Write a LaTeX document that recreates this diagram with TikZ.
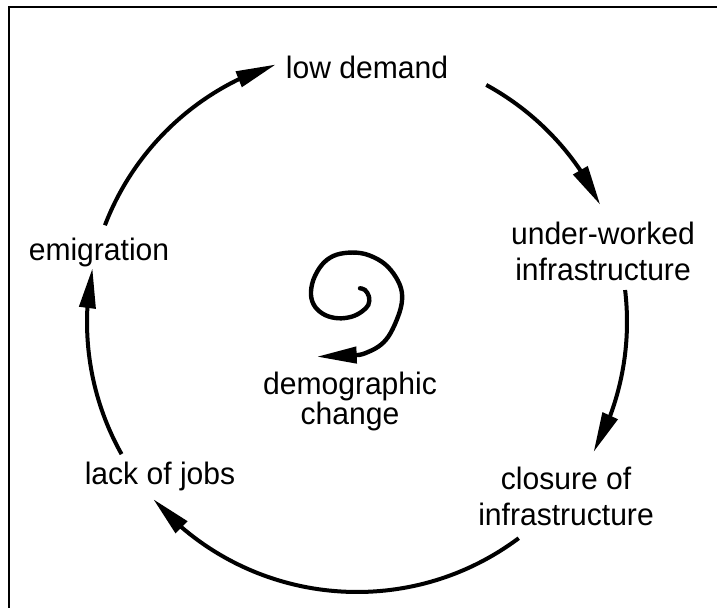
\documentclass[tikz,border=0pt]{standalone}
\usepackage{fontspec}
\setmainfont{Liberation Sans}[FakeStretch=0.97]
\usetikzlibrary{arrows.meta,bending}

\begin{document}
\begin{tikzpicture}[x=0.5pt, y=0.5pt,
  cycle_label/.style={align=center, inner sep=0pt, font=\fontsize{15.5}{18}\selectfont},
  cycle_arrow/.style={line width=2pt, -{Triangle[length=20pt,width=8pt]}}]

\useasboundingbox (0,0) rectangle (717,608);

\draw[line width=1.25pt] (9,0) -- (9,601) -- (717,601);

\coordinate (c) at (357,286);

\node[cycle_label] (low_demand) at (367,541) {low demand};
\node[cycle_label] (under_worked) at (603,357) {under-worked\\infrastructure};
\node[cycle_label] (closure) at (566,112) {closure of\\infrastructure};
\node[cycle_label] (lack_jobs) at (160,132) {lack of jobs};
\node[cycle_label] (emigration) at (99,356) {emigration};
\node[cycle_label, font=\fontsize{15.5}{15}\selectfont] (demographic) at (350,207) {demographic\\change};

\coordinate (arc_emi) at ([shift={(159:135pt)}]c);
\coordinate (arc_low) at ([shift={(61.4:135pt)}]c);
\coordinate (arc_und) at ([shift={(6.8:135pt)}]c);
\coordinate (arc_clo) at ([shift={(-53.2:135pt)}]c);
\coordinate (arc_lack) at ([shift={(-150.7:135pt)}]c);

\draw[cycle_arrow] (arc_emi) arc[start angle=159, end angle=107.5, radius=135pt];
\draw[cycle_arrow] (arc_low) arc[start angle=61.4, end angle=25.7, radius=135pt];
\draw[cycle_arrow] (arc_und) arc[start angle=6.8, end angle=-28.8, radius=135pt];
\draw[cycle_arrow] (arc_clo) arc[start angle=-53.2, end angle=-139, radius=135pt];
\draw[cycle_arrow] (arc_lack) arc[start angle=-150.7, end angle=-191.5, radius=135pt];

\coordinate (spiral_tip) at (316.7,251.3);
\draw[line width=2.2pt, line cap=round, -{Triangle[length=20pt,width=8pt]}]
  plot[smooth, tension=0.6] coordinates {(360.0,319.7) (365.0,318.0) (369.0,311.3) (368.3,303.0)
  (361.7,296.3) (351.7,291.3) (338.3,289.7) (325.0,293.0) (315.0,301.3) (311.0,313.0)
  (313.3,328.0) (321.7,343.0) (333.3,352.0) (348.3,355.3) (365.0,354.0) (381.7,346.3)
  (393.3,334.7) (401.0,319.7) (401.7,304.7) (396.7,288.0) (388.3,271.3) (378.3,261.3)
  (365.0,254.7) (358.3,253.0)} -- (spiral_tip);

\end{tikzpicture}
\end{document}
